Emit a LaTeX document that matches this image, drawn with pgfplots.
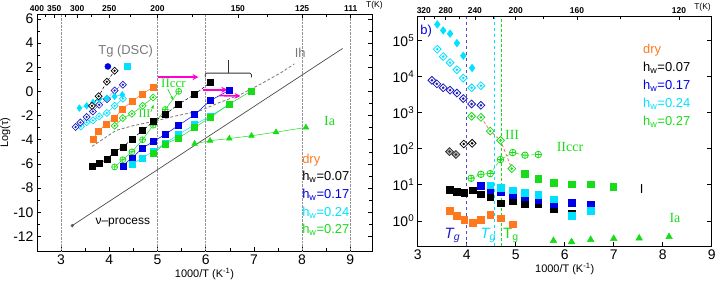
\documentclass[border=0pt]{standalone}
\usepackage{pgfplots}
\pgfplotsset{compat=1.18}
\usepackage{fontspec}
\setmainfont{Liberation Sans}
\newfontfamily\serif{Liberation Serif}
\usetikzlibrary{arrows.meta,plotmarks}
\definecolor{cOr}{RGB}{255,120,30}
\definecolor{cGr}{RGB}{25,220,25}
\definecolor{cCy}{RGB}{0,225,255}
\definecolor{cBl}{RGB}{0,0,230}
\definecolor{cDb}{RGB}{30,30,190}
\definecolor{cMg}{RGB}{255,0,210}
\definecolor{cGy}{RGB}{120,120,120}
\definecolor{cSal}{RGB}{240,120,90}
\pgfdeclareplotmark{dd}{%
 \pgfpathmoveto{\pgfqpoint{0pt}{1.35\pgfplotmarksize}}%
 \pgfpathlineto{\pgfqpoint{1.35\pgfplotmarksize}{0pt}}%
 \pgfpathlineto{\pgfqpoint{0pt}{-1.35\pgfplotmarksize}}%
 \pgfpathlineto{\pgfqpoint{-1.35\pgfplotmarksize}{0pt}}%
 \pgfpathclose
 \pgfusepathqfillstroke
 \pgfpathcircle{\pgfpointorigin}{0.3\pgfplotmarksize}%
 \pgfusepathqstroke}
\pgfplotsset{
 every axis/.append style={scale only axis,
  /pgf/number format/assume math mode=true,
  tick label style={font=\fontsize{14}{16}\selectfont},
  label style={font=\fontsize{11}{13}\selectfont},
  axis line style={line width=0.8pt},
  tick style={line width=0.6pt, black},
  tick align=inside},
}
\begin{document}
\begin{tikzpicture}
\useasboundingbox (0,0) rectangle (720bp,288bp);
% ================= LEFT PANEL =================
\begin{axis}[at={(37bp,37bp)}, anchor=south west, width=335bp, height=237bp,
 xmin=2.5, xmax=9.45, ymin=-13.2, ymax=6.4,
 xtick={3,4,5,6,7,8,9}, ytick={-12,-10,-8,-6,-4,-2,0,2,4,6},
 minor x tick num=1, minor y tick num=1,
 xtick pos=bottom, ytick pos=both, yticklabel pos=left,
 extra x ticks={3,5,6,8,9}, extra x tick labels={},
 extra x tick style={grid=major, major grid style={cGy!80, densely dotted, line width=0.6pt}, major tick length=0pt},
 xlabel={1000/T (K\textsuperscript{-1})}, ylabel={Log(τ)},
 xlabel style={yshift=3bp}, ylabel style={yshift=-4bp},
 mark size=3bp, every axis plot/.append style={line width=0.5pt}]
% nu-process line
\addplot[black!70, mark=o, mark size=1.3bp, mark repeat=2, line width=0.7pt] coordinates {(3.23,-11.1) (8.84,3.55)};
% Ih curve
\addplot[cGy, densely dashed, line width=0.8pt, no marks] coordinates {(3.64,-4.55) (4.14,-3.23) (4.49,-2.84) (4.90,-2.49) (5.39,-2.02) (5.87,-1.62) (6.28,-0.93) (6.70,-0.3) (7.18,0.69) (7.60,1.64) (7.84,2.28)};
% orange dry
\addplot[cOr, mark=square*, mark options={fill=cOr, draw=cOr}] coordinates {(3.66,-3.94) (3.78,-3.26) (3.93,-2.7) (4.11,-2.21) (4.27,-1.46) (4.47,-0.83) (4.69,-0.2) (4.91,0.36)};
% green diamonds III
\addplot[cGr, mark=dd, mark size=2.6bp, mark options={fill=white, draw=cGr, line width=0.7pt}] coordinates {(4.11,-2.84) (4.28,-2.21) (4.47,-1.85) (4.69,-1.19) (4.91,-0.5)};
% cyan open diamonds
\addplot[cCy, mark=dd, mark size=2.6bp, mark options={fill=white, draw=cCy, line width=0.7pt}] coordinates {(3.41,-2.9) (3.53,-2.55) (3.66,-2.4) (3.79,-2.07) (3.95,-1.79) (4.11,-1.19) (4.28,-0.61)};
% blue open diamonds
\addplot[cDb, densely dotted, mark=dd, mark size=2.6bp, mark options={fill=white, draw=cDb, solid, line width=0.7pt}] coordinates {(3.30,-2.95) (3.40,-2.57) (3.53,-2.12) (3.66,-1.66) (3.79,-1.11) (3.95,-0.64) (4.11,0.07) (4.28,0.55)};
% cyan filled diamonds
\addplot[cCy, mark=diamond*, mark size=3.3bp, mark options={fill=cCy, draw=cCy}] coordinates {(3.38,-1.38) (3.53,-1.19) (3.66,-0.92) (3.79,-0.64) (3.95,-0.55) (4.11,-0.42) (4.27,-0.28)};
% black open diamonds
\addplot[black, densely dashed, mark=dd, mark size=2.6bp, mark options={fill=white, draw=black, solid, line width=0.7pt}] coordinates {(3.64,-1.2) (3.78,-0.4) (3.95,0.8) (4.11,1.7)};
% isolated points
\addplot[only marks, cBl, mark=*, mark size=3bp] coordinates {(3.97,2.06)};
\addplot[only marks, cCy, mark=square*, mark size=3bp] coordinates {(4.38,2.06)};
% green circles IIccr
\addplot[cGr, mark=oplus, mark size=3bp, mark options={fill=white, draw=cGr, line width=0.7pt}] coordinates {(4.11,-6.25) (4.28,-5.65) (4.47,-5.0) (4.69,-4.0) (4.91,-2.8) (5.16,-1.5) (5.44,0.0)};
% black squares
\addplot[black, densely dashed, mark=square*, mark options={solid, fill=black}] coordinates {(3.65,-6.15) (3.80,-5.95) (3.95,-5.6) (4.11,-5.0) (4.28,-4.6) (4.47,-3.95) (4.69,-3.25) (4.91,-2.5) (5.16,-1.9) (5.44,-1.05) (5.77,-0.25) (6.09,0.74)};
% blue squares
\addplot[cBl, mark=square*, mark options={fill=cBl, draw=cBl}] coordinates {(4.28,-6.15) (4.47,-5.5) (4.69,-4.69) (4.91,-4.15) (5.16,-3.56) (5.44,-2.8) (5.77,-1.93) (6.09,-0.77) (6.49,0.1)};
% cyan squares
\addplot[cCy, mark=square*, mark options={fill=cCy, draw=cCy}] coordinates {(4.47,-6.0) (4.69,-5.5) (4.91,-4.95) (5.16,-4.3) (5.44,-3.55) (5.77,-2.75) (6.09,-2.05) (6.49,-1.1)};
% green squares
\addplot[cGr, mark=square*, mark options={fill=cGr, draw=cGr}] coordinates {(4.91,-5.1) (5.16,-4.35) (5.44,-3.85) (5.77,-3.0) (6.09,-2.15) (6.49,-1.05) (6.95,0.05)};
% green triangles Ia
\addplot[cGr, mark=triangle*, mark size=3.3bp, mark options={fill=cGr, draw=cGr}] coordinates {(5.77,-4.33) (6.09,-4.08) (6.49,-3.9) (6.95,-3.67) (7.46,-3.37) (8.08,-2.98)};
% annotations
\draw[cMg, line width=1.6pt, -{Stealth[length=6bp,width=6bp]}] (axis cs:5.02,1.18) -- (axis cs:5.85,1.18);
\draw[cMg, line width=1.6pt, -{Stealth[length=6bp,width=6bp]}] (axis cs:5.94,0.13) -- (axis cs:6.45,0.13);
\draw[cMg, line width=1.6pt, -{Stealth[length=6bp,width=6bp]}] (axis cs:6.28,-0.35) -- (axis cs:6.72,-0.38);
\draw[black!80, line width=0.8pt, rounded corners=1.5bp] (axis cs:5.99,1.15) -- (axis cs:5.99,1.51) -- (axis cs:6.95,1.51) -- (axis cs:6.95,1.15);
\draw[black!80, line width=0.8pt] (axis cs:6.47,1.51) -- (axis cs:6.47,2.6);
\draw[cGr, line width=0.6pt, -{Stealth[length=4bp,width=3bp]}] (axis cs:5.21,0.2) -- (axis cs:5.33,-0.72);
\draw[cGr, line width=0.6pt, -{Stealth[length=4bp,width=3bp]}] (axis cs:4.86,-1.7) -- (axis cs:4.92,-1.1);
\node[cGy, font=\fontsize{13}{15}\selectfont] at (axis cs:4.34,3.35) {Tg (DSC)};
\node[cGy, font=\fontsize{13}{15}\selectfont] at (axis cs:7.96,3.16) {Ih};
\node[cGr, font=\serif\fontsize{13}{15}\selectfont] at (axis cs:5.33,0.69) {IIccr};
\node[cGr, font=\serif\fontsize{12}{14}\selectfont] at (axis cs:4.73,-1.85) {III};
\node[cGr, font=\serif\fontsize{14}{16}\selectfont] at (axis cs:8.57,-2.49) {Ia};
\node[black, font=\fontsize{12}{14}\selectfont] at (axis cs:4.28,-10.83) {ν–process};
\node[cOr, anchor=west, font=\fontsize{13}{15}\selectfont] at (axis cs:7.93,-5.65) {dry};
\node[black, anchor=west, font=\fontsize{13}{15}\selectfont] at (axis cs:7.93,-7.06) {h\textsubscript{w}=0.07};
\node[cBl, anchor=west, font=\fontsize{13}{15}\selectfont] at (axis cs:7.93,-8.55) {h\textsubscript{w}=0.17};
\node[cCy, anchor=west, font=\fontsize{13}{15}\selectfont] at (axis cs:7.93,-10.03) {h\textsubscript{w}=0.24};
\node[cGr, anchor=west, font=\fontsize{13}{15}\selectfont] at (axis cs:7.93,-11.44) {h\textsubscript{w}=0.27};
\end{axis}
% left top temperature axis
\begin{axis}[at={(37bp,37bp)}, anchor=south west, width=335bp, height=237bp,
 xmin=2.5, xmax=9.45, ymin=0, ymax=1, clip=false,
 axis x line*=top, axis y line=none,
 xtick={2.5,2.857,3.333,4,5,6.667,8,9.009},
 xticklabels={400,350,300,250,200,150,125,111},
 minor xtick={2.667,3.077,3.636,4.444,5.714,7.273,8.511},
 tick label style={font=\bfseries\fontsize{8.5}{9}\selectfont},
 xticklabel style={yshift=-1bp}]
\addplot[draw=none] coordinates {(3,0.5)};
\node[anchor=south west, font=\fontsize{8.5}{9}\selectfont, inner sep=0bp] at (rel axis cs:0.982,1.018) {T(K)};
\end{axis}
% ================= RIGHT PANEL =================
\begin{axis}[at={(417.7bp,42bp)}, anchor=south west, width=294bp, height=230bp,
 xmin=3, xmax=9, ymode=log, log basis y=10, ymin=0.2, ymax=4.8e5,
 xtick={3,4,5,6,7,8,9}, xtick pos=bottom, ytick pos=both, yticklabel pos=left,
 ytick={1,10,100,1000,10000,100000},
 yticklabels={10\textsuperscript{0},10\textsuperscript{1},10\textsuperscript{2},10\textsuperscript{3},10\textsuperscript{4},10\textsuperscript{5}},
 xlabel={1000/T (K\textsuperscript{-1})}, xlabel style={yshift=3bp},
 mark size=3.3bp, every axis plot/.append style={line width=0.5pt}]
% Tg lines
\addplot[cDb!80, dashed, line width=0.7pt] coordinates {(4.0,0.2) (4.0,4.8e5)};
\addplot[cCy, dashed, line width=0.7pt] coordinates {(4.56,0.2) (4.56,4.8e5)};
\addplot[cGr, densely dashed, line width=0.7pt] coordinates {(4.71,0.2) (4.71,4.8e5)};
% cyan filled diamonds
\addplot[only marks, cCy, mark=diamond*, mark size=3.8bp, mark options={fill=cCy, draw=cCy}] coordinates {(3.40,2.8e5) (3.52,1.9e5) (3.66,1.55e5) (3.80,8.5e4) (3.93,3.8e4) (4.11,1.74e4)};
% cyan open diamonds
\addplot[only marks, cCy, mark=dd, mark size=2.9bp, mark options={fill=white, draw=cCy, line width=0.8pt}] coordinates {(3.40,5.75e4) (3.52,3.6e4) (3.66,2.45e4) (3.80,1.55e4) (3.93,9.1e3) (4.10,4.9e3) (4.29,5.6e3)};
% blue open diamonds
\addplot[only marks, cDb, mark=dd, mark size=2.9bp, mark options={fill=white, draw=cDb, line width=0.8pt}] coordinates {(3.29,7.9e3) (3.39,6.3e3) (3.52,4.9e3) (3.66,4.2e3) (3.80,3.5e3) (3.93,2.45e3) (4.10,1.74e3) (4.29,1.6e3)};
% salmon dashed line through green diamonds
\addplot[cSal, densely dashed, line width=0.8pt, no marks] coordinates {(4.29,741) (4.48,309) (4.69,170) (4.92,28)};
% green open diamonds
\addplot[only marks, cGr, mark=dd, mark size=2.9bp, mark options={fill=white, draw=cGr, line width=0.8pt}] coordinates {(4.10,794) (4.29,741) (4.48,309) (4.69,170) (4.92,28)};
% black diamonds
\addplot[only marks, black, mark=dd, mark size=2.9bp, mark options={fill=gray!60, draw=black!80, line width=0.8pt}] coordinates {(3.65,83) (3.78,69)};
\addplot[only marks, black, mark=dd, mark size=2.9bp, mark options={fill=white, draw=black, line width=0.8pt}] coordinates {(3.94,135) (4.11,141)};
% green circles IIccr
\addplot[cGr, densely dashed, mark=oplus, mark size=3.3bp, mark options={solid, fill=white, draw=cGr, line width=0.8pt}] coordinates {(4.09,15.1) (4.29,19.5) (4.48,20.4) (4.69,50) (4.94,78) (5.19,66) (5.46,69)};
% black squares
\addplot[only marks, black, mark=square*, mark options={fill=black}] coordinates {(3.66,7.2) (3.80,6.5) (3.95,6.0) (4.12,7.1) (4.29,5.5) (4.48,4.7) (4.70,3.1) (4.94,3.5) (5.19,2.9) (5.46,2.9) (5.78,2.2) (6.14,1.6)};
% blue squares
\addplot[only marks, cBl, mark=square*, mark options={fill=cBl, draw=cBl}] coordinates {(4.29,9.3) (4.48,7.2) (4.70,6.3) (4.94,5.1) (5.19,4.5) (5.46,3.7) (5.78,3.0) (6.14,3.2) (6.53,2.9)};
% cyan squares
\addplot[only marks, cCy, mark=square*, mark options={fill=cCy, draw=cCy}] coordinates {(4.48,9.8) (4.70,8.3) (4.94,7.1) (5.19,6.0) (5.46,5.2) (5.78,4.0) (6.14,1.38) (6.53,1.9)};
% green squares
\addplot[only marks, cGr, mark=square*, mark options={fill=cGr, draw=cGr}] coordinates {(5.19,20.4) (5.46,14.8) (5.78,11.5) (6.14,10.2) (6.53,10.2) (6.99,8.9)};
% orange squares
\addplot[only marks, cOr, mark=square*, mark options={fill=cOr, draw=cOr}] coordinates {(3.66,1.9) (3.80,1.38) (3.95,1.05) (4.12,0.87) (4.29,1.05) (4.48,1.45) (4.70,1.17) (4.94,0.81)};
% green triangles
\addplot[only marks, cGr, mark=triangle*, mark size=3.8bp, mark options={fill=cGr, draw=cGr}] coordinates {(5.77,0.28) (6.14,0.26) (6.53,0.30) (7.0,0.32) (7.52,0.33) (8.13,0.36)};
% annotations (relative positions)
\node[rotate=90, font=\fontsize{12}{14}\selectfont] at (rel axis cs:-0.12,0.53) {Δε};
\node[cBl, anchor=west, font=\fontsize{13}{15}\selectfont, inner sep=1bp] at (rel axis cs:0.005,0.935) {b)};
\node[cGr, font=\serif\fontsize{14}{16}\selectfont] at (rel axis cs:0.321,0.483) {III};
\node[cGr, font=\serif\fontsize{14}{16}\selectfont] at (rel axis cs:0.518,0.430) {IIccr};
\node[black, font=\fontsize{13}{15}\selectfont] at (rel axis cs:0.762,0.248) {I};
\node[cGr, font=\serif\fontsize{14}{16}\selectfont] at (rel axis cs:0.875,0.122) {Ia};
\node[cDb, font=\itshape\fontsize{15}{17}\selectfont] at (rel axis cs:0.118,0.045) {T\textsubscript{g}};
\node[cCy, font=\itshape\fontsize{15}{17}\selectfont] at (rel axis cs:0.24,0.045) {T\textsubscript{g}};
\node[cGr, font=\fontsize{15}{17}\selectfont] at (rel axis cs:0.317,0.045) {T\textsubscript{g}};
\node[cOr, anchor=west, font=\fontsize{13}{15}\selectfont] at (rel axis cs:0.755,0.852) {dry};
\node[black, anchor=west, font=\fontsize{13}{15}\selectfont] at (rel axis cs:0.755,0.775) {h\textsubscript{w}=0.07};
\node[cBl, anchor=west, font=\fontsize{13}{15}\selectfont] at (rel axis cs:0.755,0.697) {h\textsubscript{w}=0.17};
\node[cCy, anchor=west, font=\fontsize{13}{15}\selectfont] at (rel axis cs:0.755,0.619) {h\textsubscript{w}=0.24};
\node[cGr, anchor=west, font=\fontsize{13}{15}\selectfont] at (rel axis cs:0.755,0.541) {h\textsubscript{w}=0.27};
\end{axis}
% right top temperature axis
\begin{axis}[at={(417.7bp,42bp)}, anchor=south west, width=294bp, height=230bp,
 xmin=3, xmax=9, ymin=0, ymax=1, clip=false,
 axis x line*=top, axis y line=none,
 xtick={3.125,3.571,4.167,5,6.25,8.333},
 xticklabels={320,280,240,200,160,120},
 minor xtick={3.333,3.846,4.545,5.556,7.143},
 tick label style={font=\bfseries\fontsize{8.5}{9}\selectfont},
 xticklabel style={yshift=-1bp}]
\addplot[draw=none] coordinates {(4,0.5)};
\node[anchor=south west, font=\fontsize{8.5}{9}\selectfont, inner sep=0bp] at (rel axis cs:0.94,1.018) {T(K)};
\end{axis}
\end{tikzpicture}
\end{document}
